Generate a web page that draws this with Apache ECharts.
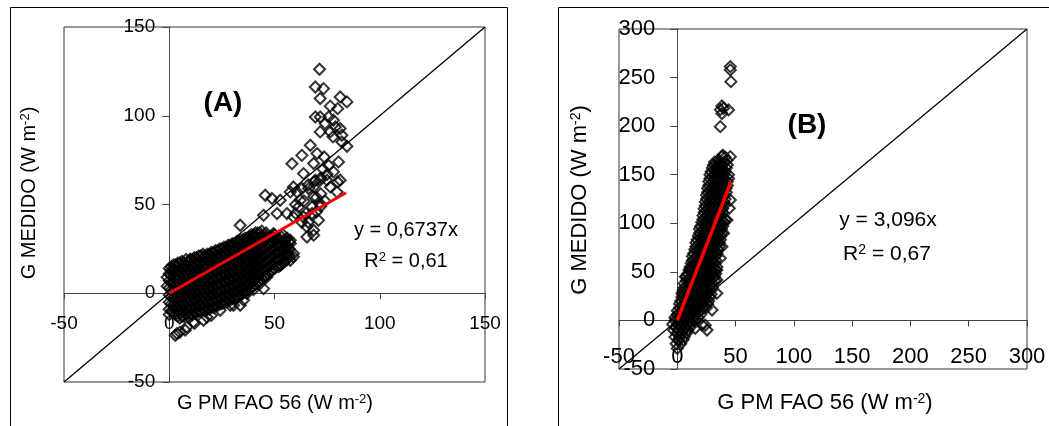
<!DOCTYPE html>
<html><head><meta charset="utf-8">
<script src="https://cdn.jsdelivr.net/npm/echarts@6/dist/echarts.min.js"></script>
<style>html,body{margin:0;padding:0;background:#fff}#c{width:1049px;height:426px}</style>
</head><body><div id="c"></div>
<script>
// ---------- Panel A data ----------
const axisA = {min: -50, max: 150, interval: 50};
// dense band read column by column: [x, [y values]]
const denseColumnsA = [
  [0,[-9,-5,-1,3,7,11,14]],
  [1,[-10,-6,-2,2,6,10,13,15]],
  [2,[-11,-7,-3,1,5,9,13,16]],
  [3,[-12,-8,-4,0,4,8,12,16]],
  [4,[-13,-9,-5,-1,3,7,11,15,17]],
  [5,[-14,-11,-7,-3,1,5,9,13,17]],
  [6,[-13,-9,-5,-1,3,7,11,15,18]],
  [7,[-13,-10,-6,-2,2,6,10,14,17]],
  [8,[-12,-8,-4,0,4,8,12,16,19]],
  [9,[-13,-10,-6,-2,2,6,10,14,18]],
  [10,[-12,-8,-4,0,4,8,12,16,19]],
  [11,[-12,-9,-5,-1,3,7,11,15,19]],
  [12,[-11,-7,-3,1,5,9,13,17,20]],
  [13,[-11,-8,-4,0,4,8,12,16,20]],
  [14,[-10,-6,-2,2,6,10,14,18,21]],
  [15,[-10,-7,-3,1,5,9,13,17,21]],
  [16,[-9,-5,-1,3,7,11,15,19,22]],
  [17,[-10,-7,-3,1,5,9,13,17,21]],
  [18,[-9,-5,-1,3,7,11,15,19,22]],
  [19,[-9,-6,-2,2,6,10,14,18,22]],
  [20,[-8,-4,0,4,8,12,16,20,23]],
  [21,[-8,-5,-1,3,7,11,15,19,23]],
  [22,[-7,-3,1,5,9,13,17,21,24]],
  [23,[-7,-4,0,4,8,12,16,20,24]],
  [24,[-6,-2,2,6,10,14,18,22,25]],
  [25,[-6,-3,1,5,9,13,17,21,25]],
  [26,[-5,-1,3,7,11,15,19,23,26]],
  [27,[-5,-2,2,6,10,14,18,22,26]],
  [28,[-4,0,4,8,12,16,20,24,27]],
  [29,[-4,-1,3,7,11,15,19,23,27]],
  [30,[-3,1,5,9,13,17,21,25,28]],
  [31,[-3,0,4,8,12,16,20,24,28]],
  [32,[-2,2,6,10,14,18,22,26,29]],
  [33,[-2,1,5,9,13,17,21,25,29]],
  [34,[-1,3,7,11,15,19,23,27,30]],
  [35,[0,3,7,11,15,19,23,27,30]],
  [36,[1,5,9,13,17,21,25,29,31]],
  [37,[1,4,8,12,16,20,24,28,31]],
  [38,[2,6,10,14,18,22,26,30,32]],
  [39,[3,6,10,14,18,22,26,30,33]],
  [40,[4,8,12,16,20,24,28,32,33]],
  [41,[5,8,12,16,20,24,28,32,34]],
  [42,[6,10,14,18,22,26,30,34]],
  [43,[7,11,15,19,23,27,31,34]],
  [44,[8,12,16,20,24,28,32,35]],
  [45,[9,13,17,21,25,29,33]],
  [46,[10,14,18,22,26,30,34]],
  [47,[11,15,19,23,27,31]],
  [48,[12,16,20,24,28,32]],
  [49,[13,17,21,25,29,32]],
  [50,[14,18,22,26,30,33]],
  [51,[15,19,23,27,31]],
  [52,[15,19,23,27,31]],
  [53,[16,20,24,28,32]],
  [54,[17,21,25,29,33]],
  [55,[18,22,26,30]],
  [56,[19,23,27,31]],
  [57,[21,25,29]]
];
const scatterA = [
  [2.9,-23.7],[5,-22],[8.4,-19],[12,-17],[16.3,-15.2],[20,-12.5],[24.2,-9.6],[30.5,-6.8],[33.7,-6.8],
  [36.9,-0.2],[40,2],[43.2,5.5],[46.4,9.2],[52.7,15.8],[56.7,21.4],[0,-12],[-1,4],[-1,9],
  [10,19],[19,21],[30,27],[38,30],[44.8,2.6],[35.3,-3.9],[29,-6.8],[17.9,-13.4],[11.5,-16.2],[7.6,-20.8],[3.7,-22.7],
  [71.4,126.2],[69.4,116.2],[73.3,115.3],[71.7,109.7],[81.2,110.6],[84.4,107.8],[76.5,105.4],[80,104],
  [69.4,99.3],[71.7,99.3],[75.7,99.3],[78,97.5],[74.1,95.6],[78.9,93.7],[71.7,90.9],[76.5,90.9],
  [81.2,92.8],[82,89],[77.8,88.1],[84.4,82.8],[82,85.2],[67,83.4],[70.2,78.7],[63,77.7],[58.3,73],
  [73.6,76.8],[80.4,74],[63.8,67.4],[68.6,73.1],[75.7,72],[80,62.7],[71.7,63.7],[76.5,59.9],
  [59,59.9],[57.5,57.1],[66.2,59],[62.2,52.4],[68.6,54.3],[71.7,50.5],[45.6,55.2],[48.8,53.4],
  [52.7,52.4],[51.2,44.9],[44.8,43.9],[33.7,38.3],[61.4,48.6],[67.8,48.6],[67.8,44.9],[63.8,43],
  [70.9,41.1],[68.6,35.5],[65.4,31.7],[59,22.4],[57.5,18.6],[57.5,28],[52.7,26.1],[49.5,33.6],
  [60.7,57],[63,59],[66,61],[69,63],[72,65],[75,67],[78,68.4],[68.6,59.9],[74.9,63.7],[81.2,63.7],[79.7,57],
  [60,50],[64,52],[70,54],[72,56],[65,45],[70,46],[72,49],[74,52],[60,45],[63,40],[66,40],
  [65.4,37.4],[68.6,32.7],[59,43],[55.9,44.9],[59,20.5],[55.9,22],[57.5,29.9],[73,70],[69.4,63.7]
];
const regressionA = [[0,0],[84,56.6]];
const diagonalA = [[-50,-50],[150,150]];

// ---------- Panel B data ----------
const axisB = {min: -50, max: 300, interval: 50};
// dense band read row by row: [y, [x values]]
const denseRowsB = [
  [-24,[-1,3]],
  [-20,[1,5]],
  [-17,[-2,2,6]],
  [-13,[0,4,8]],
  [-10,[-3,1,5,9]],
  [-7,[-1,3,7,11]],
  [-4,[-4,0,4,8,12]],
  [0,[-2,2,6,10,14,17]],
  [3,[-2,2,6,10,14,18]],
  [6,[0,4,8,12,16,20]],
  [10,[0,4,8,12,16,20]],
  [13,[2,6,10,14,18,22,25]],
  [17,[2,6,10,14,18,22,26]],
  [20,[3,7,11,15,19,23,27]],
  [24,[4,8,12,16,20,24,28]],
  [27,[5,9,13,17,21,25,29]],
  [31,[5,9,13,17,21,25,29]],
  [34,[6,10,14,18,22,26,30]],
  [38,[6,10,14,18,22,26,30]],
  [41,[8,12,16,20,24,28,32]],
  [45,[8,12,16,20,24,28,32]],
  [48,[9,13,17,21,25,29,33]],
  [52,[10,14,18,22,26,30,33]],
  [55,[11,15,19,23,27,31,34]],
  [59,[12,16,20,24,28,32]],
  [62,[13,17,21,25,29,33]],
  [66,[13,17,21,25,29,33]],
  [69,[14,18,22,26,30,34]],
  [73,[15,19,23,27,31,35]],
  [76,[16,20,24,28,32,36]],
  [80,[16,20,24,28,32,36]],
  [83,[17,21,25,29,33,37]],
  [87,[18,22,26,30,34,37]],
  [90,[19,23,27,31,35,38]],
  [94,[19,23,27,31,35,38]],
  [97,[20,24,28,32,36,39]],
  [101,[21,25,29,33,37,40]],
  [104,[22,26,30,34,38,41]],
  [108,[22,26,30,34,38]],
  [111,[23,27,31,35,39]],
  [115,[23,27,31,35,39]],
  [118,[24,28,32,36,40]],
  [122,[24,28,32,36,40]],
  [125,[25,29,33,37,41]],
  [129,[25,29,33,37,41]],
  [132,[26,30,34,38,42]],
  [136,[26,30,34,38,42]],
  [139,[27,31,35,39,43]],
  [143,[27,31,35,39,43]],
  [146,[28,32,36,40,44]],
  [150,[28,32,36,40,44]],
  [153,[29,33,37,41]],
  [157,[30,34,38,42]],
  [160,[31,35,39,43]],
  [163,[32,36,40]]
];
const scatterB = [
  [45.5,261.3],[45.5,257.9],[46,245.8],[38.3,220.8],[39.7,218.4],[44,216.7],[38.3,213],[36.9,199.5],
  [38.3,168.6],[45.5,168.6],[42.6,165],[35.4,165.2],[34,158],[39,170],[41,168],[37,217],
  [45.5,124],[44.6,115.4],[42.6,103.4],[39.7,89.7],[38.3,75.9],[36.9,64],[33.9,51.9],[33.9,41.6],
  [33.9,27.9],[29.8,10.7],[6.9,45],[11.1,51.9],[4,27.9],[15.4,-8.1],[25.5,-9.9],[24,-5],[21.2,-4.7],
  [0,-28.8],[1.1,-20]
];
const regressionB = [[0,0],[46,142.4]];
const diagonalB = [[-50,-50],[300,300]];

// ---------- build ----------
const denseA = [];
denseColumnsA.forEach(([x, ys]) => ys.forEach(y => denseA.push([x, y])));
const pointsA = denseA.concat(scatterA);
const denseB = [];
denseRowsB.forEach(([y, xs]) => xs.forEach(x => denseB.push([x, y])));
const pointsB = denseB.concat(scatterB);

const FONT = 'Liberation Sans, Arial, sans-serif';
const chart = echarts.init(document.getElementById('c'), null, {renderer: 'canvas'});

const gridA = {left: 64, top: 27, width: 421, height: 355};
const gridB = {left: 619, top: 29, width: 408, height: 340};

// axes drawn through zero: shift the axis from the grid edge to the zero line
function zeroOffsetX(grid, ax) { return -(0 - ax.min) / (ax.max - ax.min) * grid.height; }
function zeroOffsetY(grid, ax) { return -(0 - ax.min) / (ax.max - ax.min) * grid.width; }

function xAx(idx, ax, grid, fs, margin) {
  return {type: 'value', gridIndex: idx, min: ax.min, max: ax.max, interval: ax.interval,
    position: 'bottom', offset: zeroOffsetX(grid, ax),
    axisLine: {onZero: false, lineStyle: {color: '#444', width: 1}},
    axisTick: {show: true, length: 6, lineStyle: {color: '#444'}},
    axisLabel: {color: '#000', fontFamily: FONT, fontSize: fs, margin: margin, showMinLabel: true, showMaxLabel: true},
    splitLine: {show: false}};
}
function yAx(idx, ax, grid, fs, margin) {
  return {type: 'value', gridIndex: idx, min: ax.min, max: ax.max, interval: ax.interval,
    position: 'left', offset: zeroOffsetY(grid, ax),
    axisLine: {onZero: false, lineStyle: {color: '#444', width: 1}},
    axisTick: {show: true, length: 7, lineStyle: {color: '#444'}},
    axisLabel: {color: '#000', fontFamily: FONT, fontSize: fs, margin: margin, showMinLabel: true, showMaxLabel: true},
    splitLine: {show: false}};
}
const scatterStyle = {symbol: 'diamond', symbolSize: 11,
  itemStyle: {color: 'rgba(0,0,0,0)', borderColor: '#000', borderWidth: 2}};

function richText(fs) {
  return {a: {fontSize: fs, fontFamily: FONT, color: '#000'},
          s: {fontSize: Math.round(fs * 0.65), fontFamily: FONT, color: '#000', verticalAlign: 'top'}};
}

chart.setOption({
  animation: false,
  grid: [
    Object.assign({show: true, borderColor: '#333', borderWidth: 1, backgroundColor: 'transparent'}, gridA),
    Object.assign({show: true, borderColor: '#333', borderWidth: 1, backgroundColor: 'transparent'}, gridB)
  ],
  xAxis: [xAx(0, axisA, gridA, 19, 21), xAx(1, axisB, gridB, 22, 26)],
  yAxis: [yAx(0, axisA, gridA, 19, 14), yAx(1, axisB, gridB, 22, 22)],
  series: [
    {type: 'line', xAxisIndex: 0, yAxisIndex: 0, data: diagonalA, showSymbol: false, symbol: 'none',
      lineStyle: {color: '#000', width: 1.3}, z: 1},
    Object.assign({type: 'scatter', xAxisIndex: 0, yAxisIndex: 0, data: pointsA, z: 2}, scatterStyle),
    {type: 'line', xAxisIndex: 0, yAxisIndex: 0, data: regressionA, showSymbol: false, symbol: 'none',
      lineStyle: {color: '#ff0000', width: 3}, z: 3},
    {type: 'line', xAxisIndex: 1, yAxisIndex: 1, data: diagonalB, showSymbol: false, symbol: 'none',
      lineStyle: {color: '#000', width: 1.3}, z: 1},
    Object.assign({type: 'scatter', xAxisIndex: 1, yAxisIndex: 1, data: pointsB, z: 2}, scatterStyle),
    {type: 'line', xAxisIndex: 1, yAxisIndex: 1, data: regressionB, showSymbol: false, symbol: 'none',
      lineStyle: {color: '#ff0000', width: 3.5}, z: 3}
  ],
  graphic: [
    {type: 'rect', shape: {x: 10.5, y: 7.5, width: 497, height: 440}, style: {fill: 'none', stroke: '#000', lineWidth: 1}, silent: true},
    {type: 'rect', shape: {x: 558.5, y: 7.5, width: 520, height: 440}, style: {fill: 'none', stroke: '#000', lineWidth: 1}, silent: true},
    // panel A texts
    {type: 'text', x: 223, y: 103, style: {text: '(A)', font: 'bold 28px ' + FONT, fill: '#000', align: 'center', verticalAlign: 'middle'}},
    {type: 'text', x: 406, y: 230, style: {text: '{a|y = 0,6737x}', rich: richText(20), align: 'center', verticalAlign: 'middle'}},
    {type: 'text', x: 406, y: 261, style: {text: '{a|R}{s|2}{a| = 0,61}', rich: richText(20), align: 'center', verticalAlign: 'middle'}},
    {type: 'text', x: 275, y: 403, style: {text: '{a|G PM FAO 56 (W m}{s|-2}{a|)}', rich: richText(20), align: 'center', verticalAlign: 'middle'}},
    {type: 'text', x: 29, y: 193, rotation: Math.PI / 2, style: {text: '{a|G MEDIDO (W m}{s|-2}{a|)}', rich: richText(20), align: 'center', verticalAlign: 'middle'}},
    // panel B texts
    {type: 'text', x: 807, y: 125, style: {text: '(B)', font: 'bold 28px ' + FONT, fill: '#000', align: 'center', verticalAlign: 'middle'}},
    {type: 'text', x: 888, y: 220, style: {text: '{a|y = 3,096x}', rich: richText(21), align: 'center', verticalAlign: 'middle'}},
    {type: 'text', x: 887, y: 254, style: {text: '{a|R}{s|2}{a| = 0,67}', rich: richText(21), align: 'center', verticalAlign: 'middle'}},
    {type: 'text', x: 825, y: 403, style: {text: '{a|G PM FAO 56 (W m}{s|-2}{a|)}', rich: richText(22), align: 'center', verticalAlign: 'middle'}},
    {type: 'text', x: 580, y: 200, rotation: Math.PI / 2, style: {text: '{a|G MEDIDO (W m}{s|-2}{a|)}', rich: richText(22), align: 'center', verticalAlign: 'middle'}}
  ]
});
</script></body></html>
